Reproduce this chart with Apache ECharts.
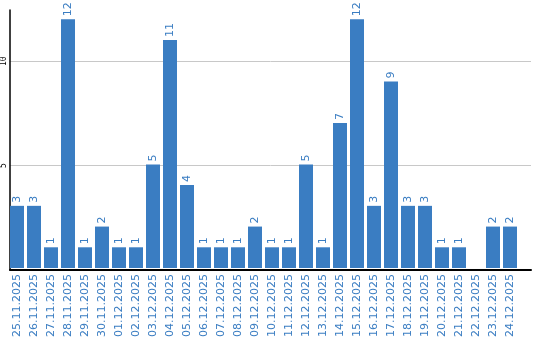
<!DOCTYPE html>
<html><head><meta charset="utf-8">
<script src="https://cdn.jsdelivr.net/npm/echarts@6/dist/echarts.min.js"></script>
<style>html,body{margin:0;padding:0;background:#fff}#c{width:540px;height:340px}</style>
</head><body><div id="c"></div>
<script>
const categories = ["25.11.2025","26.11.2025","27.11.2025","28.11.2025","29.11.2025","30.11.2025","01.12.2025","02.12.2025","03.12.2025","04.12.2025","05.12.2025","06.12.2025","07.12.2025","08.12.2025","09.12.2025","10.12.2025","11.12.2025","12.12.2025","13.12.2025","14.12.2025","15.12.2025","16.12.2025","17.12.2025","18.12.2025","19.12.2025","20.12.2025","21.12.2025","22.12.2025","23.12.2025","24.12.2025"];
const values = [3,3,1,12,1,2,1,1,5,11,4,1,1,1,2,1,1,5,1,7,12,3,9,3,3,1,1,null,2,2];
const yTicks = [5,10];
const yMax = 12.45;

const blue = '#3a7dc2';
const chart = echarts.init(document.getElementById('c'), null, {renderer:'canvas'});
chart.setOption({
  animation:false,
  grid:[
    {left:10,right:9,top:10,bottom:70,containLabel:false},
    {left:8.5,width:510,top:10,bottom:70,containLabel:false}
  ],
  xAxis:[
    {gridIndex:0,type:'value',min:0,max:1,
      axisLine:{show:true,lineStyle:{color:'#000',width:2}},
      axisTick:{show:false},axisLabel:{show:false},splitLine:{show:false}},
    {gridIndex:1,type:'category',data:categories,
      axisLine:{show:false},axisTick:{show:false},
      axisLabel:{rotate:90,interval:0,color:blue,fontFamily:'DejaVu Sans',fontSize:11,margin:6}}
  ],
  yAxis:[
    {gridIndex:0,type:'value',min:0,max:yMax,interval:5,
      axisLine:{show:true,lineStyle:{color:'#000',width:1.5}},
      axisTick:{show:false},
      splitLine:{show:true,showMaxLine:false,lineStyle:{color:'#c8c8c8',width:1}},
      axisLabel:{rotate:90,color:'#000',fontFamily:'DejaVu Sans Mono',fontSize:8,margin:2,
        formatter:v=>yTicks.includes(v)?String(v):''}},
    {gridIndex:1,type:'value',min:0,max:yMax,show:false}
  ],
  series:[{type:'bar',xAxisIndex:1,yAxisIndex:1,data:values,barWidth:14,
    itemStyle:{color:blue},
    label:{show:true,position:'top',rotate:90,align:'left',verticalAlign:'middle',distance:3,
      color:blue,fontFamily:'DejaVu Sans',fontSize:11}}]
});
</script></body></html>
